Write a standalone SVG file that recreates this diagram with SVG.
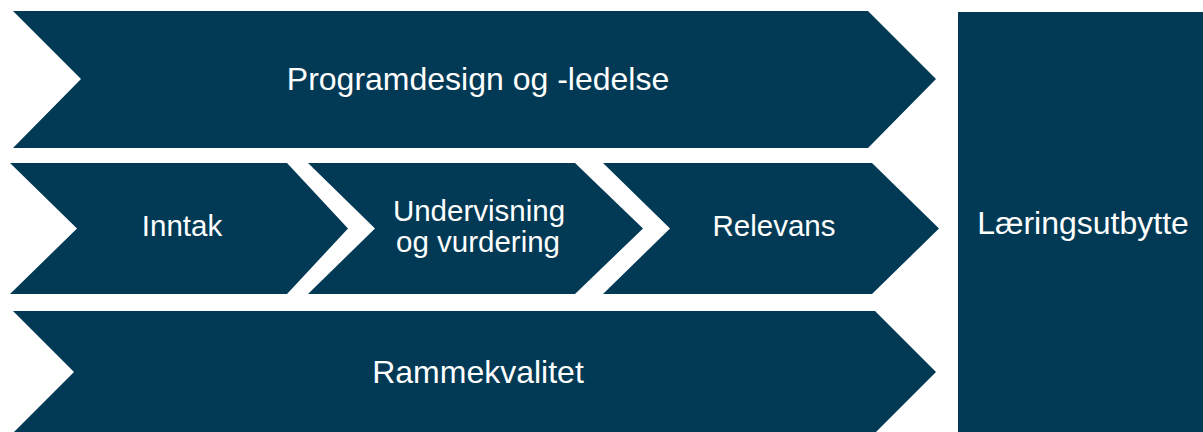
<svg xmlns="http://www.w3.org/2000/svg" width="1203" height="432" viewBox="0 0 1203 432">
<style>
.s{fill:#023A55}
.t{fill:#FFFFFF;font-family:"Liberation Sans",Arial,sans-serif;font-size:32px;text-anchor:middle}
.m{font-size:29.5px}
</style>
<rect width="1203" height="432" fill="#FFFFFF"/>
<g id="programdesign">
<polygon class="s" points="13,11 868,11 936,79 868,148 13,148 81,79"/>
<text class="t" x="478" y="90">Programdesign og -ledelse</text>
</g>
<g id="inntak">
<polygon class="s" points="10,163 287,163 348,228.5 287,294 10,294 77,228.5"/>
<text class="t m" x="182" y="236">Inntak</text>
</g>
<g id="undervisning">
<polygon class="s" points="308,163 575,163 643,228.5 575,294 308,294 375,228.5"/>
<text class="t m" x="479" y="221">Undervisning</text>
<text class="t m" x="478" y="252">og vurdering</text>
</g>
<g id="relevans">
<polygon class="s" points="603,163 872,163 939,228.5 872,294 603,294 670,228.5"/>
<text class="t m" x="774" y="236">Relevans</text>
</g>
<g id="rammekvalitet">
<polygon class="s" points="13,311 875,311 936,372 875,433 13,433 74,372"/>
<text class="t" x="478" y="383">Rammekvalitet</text>
</g>
<g id="laeringsutbytte">
<rect class="s" x="958" y="12" width="245" height="420"/>
<text class="t" x="1083" y="234">Læringsutbytte</text>
</g>
<g id="connectors"/>
</svg>
